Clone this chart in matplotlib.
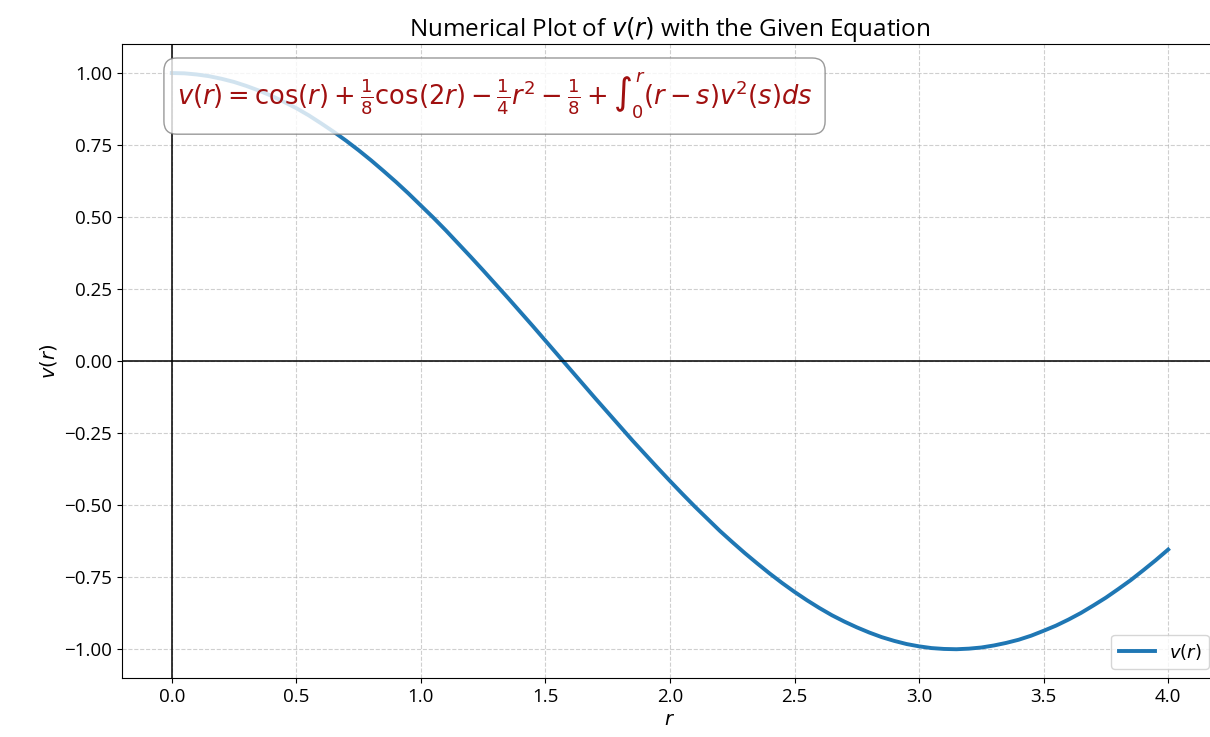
import matplotlib.pyplot as plt

plt.rcParams['font.family'] = ['Open Sans', 'DejaVu Sans']

# values
r_vals = [0.00, 0.05, 0.10, 0.15, 0.20, 0.25, 0.30, 0.35, 0.40, 0.45,
          0.50, 0.55, 0.60, 0.65, 0.70, 0.75, 0.80, 0.85, 0.90, 0.95,
          1.00, 1.05, 1.10, 1.15, 1.20, 1.25, 1.30, 1.35, 1.40, 1.45,
          1.50, 1.55, 1.60, 1.65, 1.70, 1.75, 1.80, 1.85, 1.90, 1.95,
          2.00, 2.05, 2.10, 2.15, 2.20, 2.25, 2.30, 2.35, 2.40, 2.45,
          2.50, 2.55, 2.60, 2.65, 2.70, 2.75, 2.80, 2.85, 2.90, 2.95,
          3.00, 3.05, 3.10, 3.15, 3.20, 3.25, 3.30, 3.35, 3.40, 3.45,
          3.50, 3.55, 3.60, 3.65, 3.70, 3.75, 3.80, 3.85, 3.90, 3.95, 4.00]
v_vals = [1.000, 0.999, 0.995, 0.989, 0.980, 0.969, 0.955, 0.939, 0.921, 0.900,
          0.878, 0.853, 0.825, 0.796, 0.765, 0.732, 0.697, 0.660, 0.622, 0.582,
          0.540, 0.498, 0.454, 0.408, 0.362, 0.315, 0.267, 0.219, 0.170, 0.121,
          0.071, 0.021, -0.029, -0.079, -0.129, -0.178, -0.227, -0.276, -0.323, -0.370,
          -0.416, -0.461, -0.505, -0.547, -0.589, -0.628, -0.666, -0.702, -0.737, -0.770,
          -0.801, -0.830, -0.857, -0.882, -0.904, -0.924, -0.942, -0.958, -0.971, -0.982,
          -0.990, -0.996, -0.999, -1.000, -0.998, -0.994, -0.987, -0.978, -0.967, -0.953,
          -0.936, -0.918, -0.897, -0.874, -0.848, -0.821, -0.791, -0.760, -0.726, -0.691,
          -0.654]

equation = r"$v(r) = \cos(r) + \frac{1}{8}\cos(2r) - \frac{1}{4}r^2 - \frac{1}{8} + \int_0^r (r-s)v^2(s)ds$"

fig = plt.figure(figsize=(12.1, 7.37), dpi=100)
ax = fig.add_axes([0.1008, 0.080, 0.9058, 0.860])

ax.plot(r_vals, v_vals, color='#1f77b4', lw=2.8, label=r'$v(r)$')
ax.axhline(0, color='black', lw=1.1)
ax.axvline(0, color='black', lw=1.1)

ax.set_xlim(-0.2, 4.2)
ax.set_ylim(-1.1, 1.1)
ax.set_xticks([0.0, 0.5, 1.0, 1.5, 2.0, 2.5, 3.0, 3.5, 4.0])
ax.set_yticks([-1.0, -0.75, -0.5, -0.25, 0.0, 0.25, 0.5, 0.75, 1.0])
ax.tick_params(labelsize=13.5)
ax.grid(True, linestyle='--', alpha=0.6)
ax.spines['right'].set_visible(False)

ax.set_title(r'Numerical Plot of $v(r)$ with the Given Equation', fontsize=17.5)
ax.set_xlabel(r'$r$', fontsize=14)
ax.set_ylabel(r'$v(r)$', fontsize=14)

ax.text(0.05, 0.958, equation, transform=ax.transAxes, fontsize=18.5,
        color='#a01010', va='top', ha='left',
        bbox=dict(boxstyle='round,pad=0.5', facecolor='white', edgecolor='gray', alpha=0.8))

ax.legend(loc='lower right', fontsize=13)

plt.savefig('out.png', dpi=100)
